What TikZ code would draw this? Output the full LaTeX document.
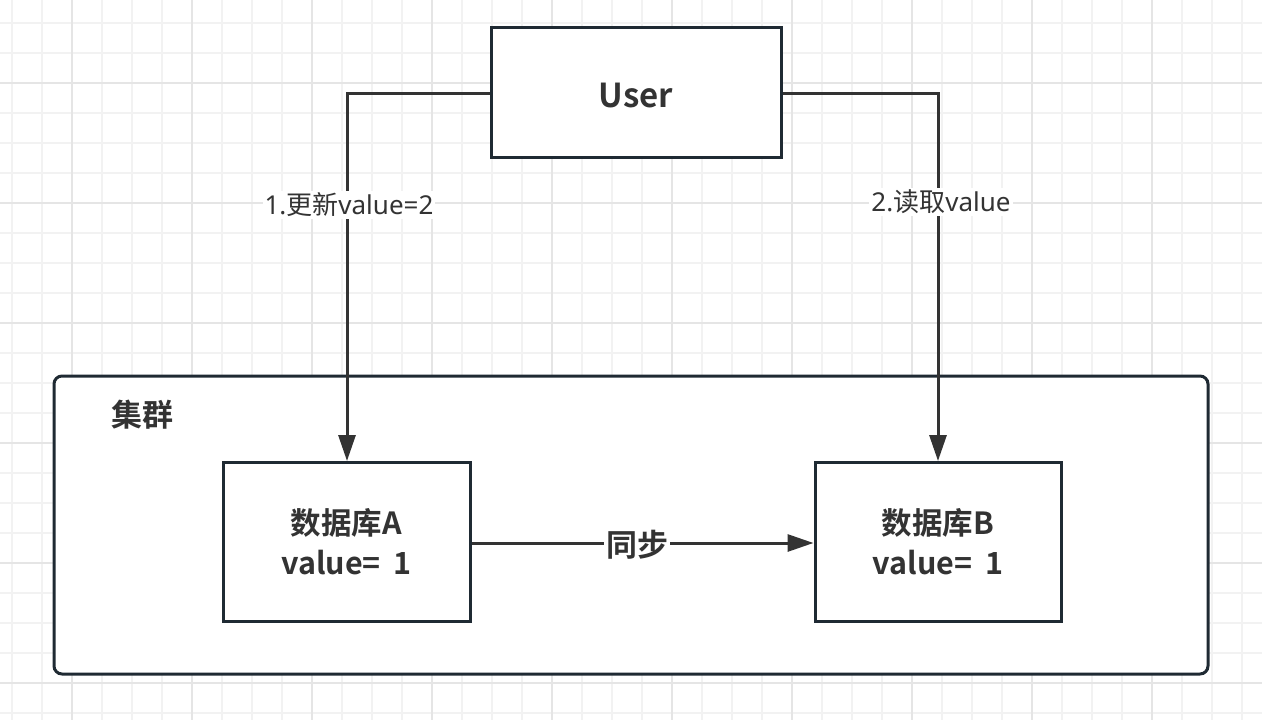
\documentclass[tikz,border=0pt]{standalone}
\usepackage{fontspec}
\setmainfont{Noto Sans}
\newfontfamily\cjk{Noto Sans CJK SC}[BoldFont={Noto Sans CJK SC Bold}]
\usetikzlibrary{arrows.meta}
\definecolor{boxline}{HTML}{1F2A33}
\definecolor{txt}{HTML}{333333}
\definecolor{gridminor}{HTML}{F2F2F2}
\definecolor{gridmajor}{HTML}{E5E5E5}
\tikzset{
  boxnode/.style={draw=boxline, line width=3pt, fill=white, inner sep=0pt, text=txt, align=center, font=\cjk\bfseries\fontsize{30.5}{40}\selectfont},
  conn/.style={draw=txt, line width=3pt, -{Triangle[length=26pt,width=17pt]}},
  lbl/.style={fill=white, text=txt, inner sep=2pt, font=\fontsize{26}{30}\selectfont},
}
\begin{document}
\begin{tikzpicture}[x=1pt,y=-1pt]
\useasboundingbox (0,0) rectangle (1262,720);
\fill[white] (0,0) rectangle (1262,720);
% grid
\foreach \x in {12,42,...,1262} \draw[gridminor, line width=1.5pt] (\x,0) -- (\x,720);
\foreach \y in {23,53,...,720} \draw[gridminor, line width=1.5pt] (0,\y) -- (1262,\y);
\foreach \x in {72,192,...,1262} \draw[gridmajor, line width=1.5pt] (\x,0) -- (\x,720);
\foreach \y in {83,203,...,720} \draw[gridmajor, line width=1.5pt] (0,\y) -- (1262,\y);
% cluster
\node[draw=boxline, line width=3pt, fill=white, rounded corners=8pt, minimum width=1154pt, minimum height=298pt, inner sep=0pt] (cluster) at (631,525) {};
\node[text=txt, font=\cjk\bfseries\fontsize{31}{34}\selectfont] (clabel) at (142,415) {集群};
% boxes
\node[boxnode, minimum width=290pt, minimum height=130pt, font=\cjk\bfseries\fontsize{33}{36}\selectfont, text height=30pt, text depth=0pt] (user) at (636,92) {User};
\node[boxnode, minimum width=247pt, minimum height=159pt] (dba) at (346.5,542) {数据库A\\value=\hspace{0.42em}1};
\node[boxnode, minimum width=246pt, minimum height=159pt] (dbb) at (938,542) {数据库B\\value=\hspace{0.42em}1};
% connectors
\coordinate (lc) at (347,93);
\coordinate (rc) at (938,93);
\draw[conn] (user.west |- lc) -- (lc) -- (dba.north -| lc);
\draw[conn] (user.east |- rc) -- (rc) -- (dbb.north -| rc);
\node[lbl] (l1) at (349,205) {1.{\cjk 更新}value=2};
\node[lbl] (l2) at (941,202) {2.{\cjk 读取}value};
\draw[conn] (dba.east |- 0,543) -- (dbb.west |- 0,543);
\node[fill=white, text=txt, inner sep=2pt, font=\cjk\bfseries\fontsize{31}{34}\selectfont] (sync) at (637,545) {同步};
\end{tikzpicture}
\end{document}
